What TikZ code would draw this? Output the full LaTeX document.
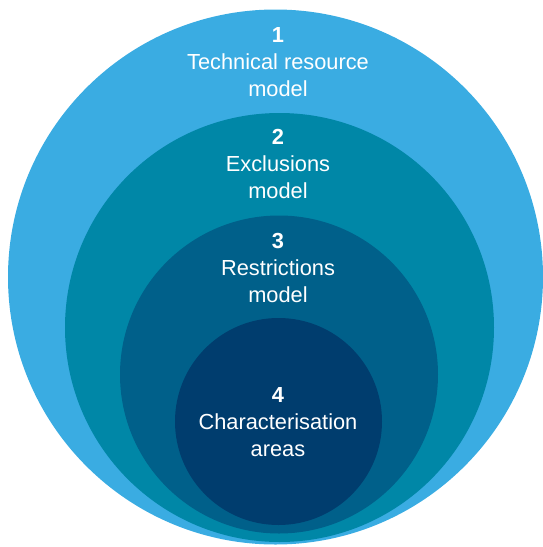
\documentclass[tikz,border=0pt]{standalone}
\usepackage{fontspec}
\setsansfont{Liberation Sans}
\usetikzlibrary{positioning}

\definecolor{ringA}{RGB}{58,172,226}
\definecolor{ringB}{RGB}{0,135,167}
\definecolor{ringC}{RGB}{0,96,138}
\definecolor{ringD}{RGB}{0,61,110}

\begin{document}
\begin{tikzpicture}[
    x=1pt, y=-1pt,
    font=\sffamily,
    lbl/.style={text=white, align=center, font=\sffamily\fontsize{21.8}{27}\selectfont}
]
    \useasboundingbox (0,0) rectangle (543,547);

    % Nested circles
    \fill[ringA] (275.5,277) circle (267.5);
    \fill[ringB] (279.5,327.5) circle (214.5);
    \fill[ringC] (279,374.5) circle (159);
    \fill[ringD] (278.5,421.5) circle (103.5);

    % Labels
    \node[lbl] (tech) at (278,62) {\textbf{1}\\Technical resource\\model};
    \node[lbl] (excl) at (278,164) {\textbf{2}\\Exclusions\\model};
    \node[lbl] (restr) at (278,268) {\textbf{3}\\Restrictions\\model};
    \node[lbl] (char) at (278,422) {\textbf{4}\\Characterisation\\areas};

\end{tikzpicture}
\end{document}
